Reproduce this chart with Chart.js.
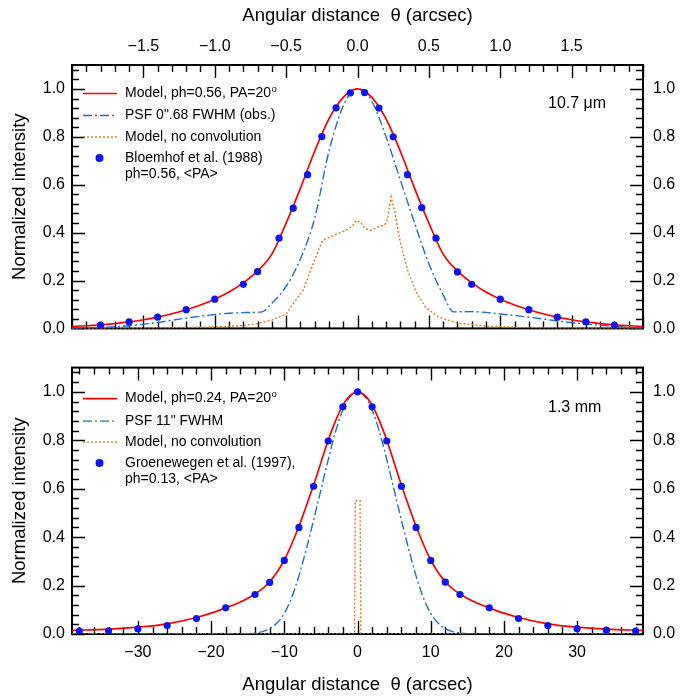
<!DOCTYPE html>
<html>
<head>
<meta charset="utf-8">
<script src="https://cdn.jsdelivr.net/npm/chart.js@4.4.0/dist/chart.umd.min.js"></script>
<style>
  body { margin: 0; background: #fff; }
  .box { position: absolute; left: 0; width: 691px; }
</style>
</head>
<body>
<div class="box" style="top:0;height:348px"><canvas id="topChart"></canvas></div>
<div class="box" style="top:348px;height:349px"><canvas id="botChart"></canvas></div>
<script>
const FONT = "'Liberation Sans', Arial, Helvetica, sans-serif";

// ---- 10.7 micron panel (x in arcsec) ----
const topModelX = [-2.0, -1.9, -1.8, -1.7, -1.6, -1.5, -1.4, -1.3, -1.2, -1.1, -1.0, -0.9, -0.8, -0.7, -0.6, -0.5, -0.4, -0.3, -0.2, -0.1, 0.0,
  0.1, 0.2, 0.3, 0.4, 0.5, 0.6, 0.7, 0.8, 0.9, 1.0, 1.1, 1.2, 1.3, 1.4, 1.5, 1.6, 1.7, 1.8, 1.9, 2.0];
const topModelY = [0.008, 0.011, 0.0145, 0.02, 0.027, 0.036, 0.047, 0.061, 0.078, 0.098, 0.122, 0.152, 0.19, 0.24, 0.31, 0.44, 0.585, 0.74, 0.875, 0.965, 1.0,
  0.965, 0.875, 0.74, 0.585, 0.44, 0.31, 0.24, 0.19, 0.152, 0.122, 0.098, 0.078, 0.061, 0.047, 0.036, 0.027, 0.02, 0.0145, 0.011, 0.008];

const topPsfX = [-2.0, -1.8, -1.6, -1.4, -1.2, -1.0, -0.9, -0.8, -0.67, -0.6, -0.5, -0.4, -0.3, -0.2, -0.1, -0.05, 0.0,
  0.05, 0.1, 0.2, 0.3, 0.4, 0.5, 0.6, 0.673, 0.8, 1.0, 1.2, 1.4, 1.6, 1.8, 2.0];
const topPsfY = [0.0, 0.004, 0.011, 0.025, 0.043, 0.058, 0.063, 0.066, 0.069, 0.105, 0.175, 0.29, 0.46, 0.74, 0.93, 0.98, 1.0,
  0.985, 0.95, 0.8, 0.62, 0.44, 0.27, 0.14, 0.069, 0.07, 0.06, 0.047, 0.031, 0.018, 0.009, 0.0];

const topBareX = [-2.0, -1.4, -1.0, -0.8, -0.7, -0.6, -0.5, -0.43, -0.38, -0.33, -0.29, -0.25, -0.23, -0.15, -0.08, -0.04, -0.01,
  0.02, 0.05, 0.09, 0.14, 0.19, 0.21, 0.235, 0.26, 0.30, 0.35, 0.41, 0.48, 0.57, 0.70, 0.90, 1.15, 1.5, 2.0];
const topBareY = [0.0, 0.002, 0.006, 0.012, 0.02, 0.035, 0.06, 0.12, 0.16, 0.24, 0.30, 0.36, 0.372, 0.392, 0.41, 0.424, 0.45,
  0.445, 0.417, 0.41, 0.423, 0.432, 0.455, 0.55, 0.49, 0.36, 0.245, 0.153, 0.086, 0.047, 0.022, 0.01, 0.004, 0.001, 0.0];

const topObsX = [-1.8, -1.6, -1.4, -1.2, -1.0, -0.8, -0.7, -0.55, -0.45, -0.35, -0.25, -0.15, -0.05,
  0.05, 0.15, 0.25, 0.35, 0.45, 0.55, 0.7, 0.8, 1.0, 1.2, 1.4, 1.6, 1.8];
const topObsY = [0.0135, 0.027, 0.047, 0.078, 0.122, 0.184, 0.237, 0.377, 0.502, 0.642, 0.801, 0.921, 0.984,
  0.985, 0.92, 0.80, 0.642, 0.504, 0.377, 0.236, 0.184, 0.122, 0.078, 0.047, 0.027, 0.0135];

// ---- 1.3 mm panel (x in arcsec) ----
const botModelX = [-39, -34, -30, -26, -22, -20, -18, -16, -14, -12, -10, -8, -6, -4, -3, -2, -1, 0,
  1, 2, 3, 4, 6, 8, 10, 12, 14, 16, 18, 20, 22, 26, 30, 34, 39];
const botModelY = [0.015, 0.02, 0.028, 0.042, 0.068, 0.086, 0.108, 0.132, 0.165, 0.215, 0.305, 0.445, 0.615, 0.80, 0.88, 0.945, 0.985, 1.0,
  0.985, 0.945, 0.88, 0.80, 0.615, 0.445, 0.305, 0.215, 0.165, 0.132, 0.108, 0.086, 0.068, 0.042, 0.028, 0.02, 0.015];

const botPsfX = [-39, -16, -15, -14, -13, -12, -11, -10, -9, -8, -7, -6, -5, -4, -3, -2, -1, 0,
  1, 2, 3, 4, 5, 6, 7, 8, 9, 10, 11, 12, 13, 14, 15, 16, 39];
const botPsfY = [0.0, 0.0, 0.001, 0.004, 0.01, 0.022, 0.045, 0.085, 0.15, 0.24, 0.35, 0.47, 0.595, 0.72, 0.835, 0.925, 0.98, 1.0,
  0.98, 0.925, 0.835, 0.72, 0.595, 0.47, 0.35, 0.24, 0.15, 0.085, 0.045, 0.022, 0.01, 0.004, 0.001, 0.0, 0.0];

const botBareX = [-39, -0.4, -0.3, 0.35, 0.45, 39];
const botBareY = [0.0, 0.0, 0.55, 0.55, 0.0, 0.0];

const botObsX = [-38, -34, -30, -26, -22, -18, -14, -12, -10, -8, -6, -4, -2, 0,
  2, 4, 6, 8, 10, 12, 14, 18, 22, 26, 30, 34, 38];
const botObsY = [0.012, 0.013, 0.021, 0.035, 0.064, 0.108, 0.163, 0.213, 0.304, 0.44, 0.61, 0.797, 0.938, 1.0,
  0.938, 0.797, 0.61, 0.44, 0.304, 0.214, 0.163, 0.108, 0.064, 0.035, 0.022, 0.016, 0.012];

const RED = '#ff0000';
const PSF_BLUE = '#1f6fc8';
const ORANGE = '#dc7a22';
const DOT_BLUE = '#0a14f5';
const DASHDOT = [9, 3, 2, 3];
const DOTTED = [2, 2];

function pts(xs, ys) {
  return xs.map((x, i) => ({ x: x, y: ys[i] }));
}

function near(v, step) {
  return Math.abs(v / step - Math.round(v / step)) < 1e-6;
}

// labels use a real minus sign like the original
function fmt(v, digits) {
  const s = Math.abs(v).toFixed(digits);
  return v < -1e-9 ? '\u2212' + s : s;
}

// box + inward ticks on all four sides
function makeFrame(xMinor, xMajor, yMinor, yMajor) {
  return {
    id: 'frame',
    beforeDatasetsDraw(chart) {
      const ctx = chart.ctx, a = chart.chartArea;
      const xs = chart.scales.x, ys = chart.scales.y;
      ctx.save();
      ctx.strokeStyle = '#000';
      ctx.lineWidth = 1.4;
      ctx.beginPath();
      for (let n = Math.ceil(xs.min / xMinor - 1e-6); n * xMinor <= xs.max + 1e-6; n++) {
        const v = n * xMinor;
        const len = near(v, xMajor) ? 13 : 7;
        const px = Math.round(xs.getPixelForValue(v)) + 0.5;
        ctx.moveTo(px, a.bottom); ctx.lineTo(px, a.bottom - len);
        ctx.moveTo(px, a.top); ctx.lineTo(px, a.top + len);
      }
      for (let n = Math.ceil(ys.min / yMinor - 1e-6); n * yMinor <= ys.max + 1e-6; n++) {
        const v = n * yMinor;
        const len = near(v, yMajor) ? 13 : 7;
        const py = Math.round(ys.getPixelForValue(v)) + 0.5;
        ctx.moveTo(a.left, py); ctx.lineTo(a.left + len, py);
        ctx.moveTo(a.right, py); ctx.lineTo(a.right - len, py);
      }
      ctx.stroke();
      ctx.lineWidth = 2;
      ctx.strokeRect(a.left, a.top, a.right - a.left, a.bottom - a.top);
      ctx.restore();
    }
  };
}

// legend drawn inside the plot, top left, plus the wavelength tag
function makeKey(rows, tag, tagDy) {
  return {
    id: 'key',
    afterDraw(chart) {
      const ctx = chart.ctx, a = chart.chartArea;
      ctx.save();
      ctx.textBaseline = 'middle';
      rows.forEach(r => {
        const y = a.top + r.dy;
        if (r.kind === 'dot') {
          ctx.fillStyle = DOT_BLUE;
          ctx.beginPath();
          ctx.arc(99.5, y, 4, 0, Math.PI * 2);
          ctx.fill();
        } else if (r.kind === 'line') {
          ctx.strokeStyle = r.color;
          ctx.lineWidth = r.width;
          ctx.setLineDash(r.dash);
          ctx.beginPath();
          ctx.moveTo(83, y); ctx.lineTo(117, y);
          ctx.stroke();
          ctx.setLineDash([]);
        }
        ctx.fillStyle = '#000';
        ctx.font = '14px ' + FONT;
        ctx.fillText(r.text, 125, y);
        if (r.sup) {
          const w = ctx.measureText(r.text).width;
          ctx.font = '9.5px ' + FONT;
          ctx.fillText(r.sup, 125 + w + 0.5, y - 4);
        }
      });
      ctx.font = '16px ' + FONT;
      ctx.fillText(tag, 548, a.top + tagDy);
      ctx.restore();
    }
  };
}

function datasets(obsX, obsY, modX, modY, psfX, psfY, bareX, bareY) {
  return [
    { label: 'obs', data: pts(obsX, obsY), showLine: false, pointRadius: 3.6, pointBackgroundColor: DOT_BLUE,
      pointBorderWidth: 0, order: 0 },
    { label: 'model', data: pts(modX, modY), borderColor: RED, borderWidth: 1.7, pointRadius: 0,
      cubicInterpolationMode: 'monotone', order: 1 },
    { label: 'psf', data: pts(psfX, psfY), borderColor: PSF_BLUE, borderWidth: 1.4, borderDash: DASHDOT, pointRadius: 0,
      cubicInterpolationMode: 'monotone', order: 2 },
    { label: 'bare', data: pts(bareX, bareY), borderColor: ORANGE, borderWidth: 1.4, borderDash: DOTTED, pointRadius: 0,
      tension: 0, order: 3 }
  ];
}

function yAxis(pos, width) {
  return {
    type: 'linear', position: pos, min: 0, max: 1.1,
    afterFit: s => { s.width = width; },
    grid: { display: false, drawTicks: false }, border: { display: false },
    ticks: { stepSize: 0.2, padding: pos === 'left' ? 7 : 10, color: '#000', font: { family: FONT, size: 16 },
      callback: v => (near(v, 0.2) && v < 1.05) ? fmt(v, 1) : '' },
    title: { display: pos === 'left', text: 'Normalized intensity', color: '#000',
      font: { family: FONT, size: 18.5 }, padding: { top: 9, bottom: 0 } }
  };
}

function xAxis(pos, min, max, step, height, labels) {
  return {
    type: 'linear', position: pos, min: min, max: max,
    afterFit: s => { s.height = height; },
    grid: { display: false, drawTicks: false }, border: { display: false },
    ticks: { display: labels, stepSize: step, autoSkip: false, maxRotation: 0, padding: 9, color: '#000',
      font: { family: FONT, size: 16 },
      callback: v => (near(v, step) && Math.abs(v) < Math.abs(max) - 1e-6) ? fmt(v, step < 1 ? 1 : 0) : '' },
    title: { display: labels, text: 'Angular distance  θ (arcsec)', color: '#000',
      font: { family: FONT, size: 18.5 }, padding: pos === 'top' ? { top: 5, bottom: 0 } : { top: 0, bottom: 1 } }
  };
}

const common = {
  responsive: true, maintainAspectRatio: false, animation: false, devicePixelRatio: 1,
  layout: { padding: 0 },
  events: []
};

new Chart(document.getElementById('topChart'), {
  type: 'line',
  data: { datasets: datasets(topObsX, topObsY, topModelX, topModelY, topPsfX, topPsfY, topBareX, topBareY) },
  options: Object.assign({}, common, {
    scales: {
      x: xAxis('top', -2, 2, 0.5, 65, true),
      x2: xAxis('bottom', -2, 2, 0.5, 6, false),
      y: yAxis('left', 72),
      y2: yAxis('right', 48)
    },
    plugins: { legend: { display: false }, tooltip: { enabled: false } }
  }),
  plugins: [
    makeFrame(0.1, 0.5, 0.04, 0.2),
    makeKey([
      { kind: 'line', color: RED, width: 1.7, dash: [], dy: 28.5, text: 'Model, ph=0.56, PA=20', sup: 'o' },
      { kind: 'line', color: PSF_BLUE, width: 1.4, dash: DASHDOT, dy: 50.5, text: 'PSF 0".68 FWHM (obs.)' },
      { kind: 'line', color: ORANGE, width: 1.4, dash: DOTTED, dy: 72, text: 'Model, no convolution' },
      { kind: 'dot', dy: 93, text: 'Bloemhof et al. (1988)' },
      { kind: 'text', dy: 109, text: 'ph=0.56, <PA>' }
    ], '10.7 μm', 38.5)
  ]
});

new Chart(document.getElementById('botChart'), {
  type: 'line',
  data: { datasets: datasets(botObsX, botObsY, botModelX, botModelY, botPsfX, botPsfY, botBareX, botBareY) },
  options: Object.assign({}, common, {
    scales: {
      x: xAxis('bottom', -39, 39, 10, 63, true),
      x2: xAxis('top', -39, 39, 10, 5, false),
      y: yAxis('left', 72),
      y2: yAxis('right', 48)
    },
    plugins: { legend: { display: false }, tooltip: { enabled: false } }
  }),
  plugins: [
    makeFrame(2, 10, 0.04, 0.2),
    makeKey([
      { kind: 'line', color: RED, width: 1.7, dash: [], dy: 31, text: 'Model, ph=0.24, PA=20', sup: 'o' },
      { kind: 'line', color: PSF_BLUE, width: 1.4, dash: DASHDOT, dy: 53.5, text: 'PSF 11" FWHM' },
      { kind: 'line', color: ORANGE, width: 1.4, dash: DOTTED, dy: 74.5, text: 'Model, no convolution' },
      { kind: 'dot', dy: 95.5, text: 'Groenewegen et al. (1997),' },
      { kind: 'text', dy: 112, text: 'ph=0.13, <PA>' }
    ], '1.3 mm', 40)
  ]
});
</script>
</body>
</html>
